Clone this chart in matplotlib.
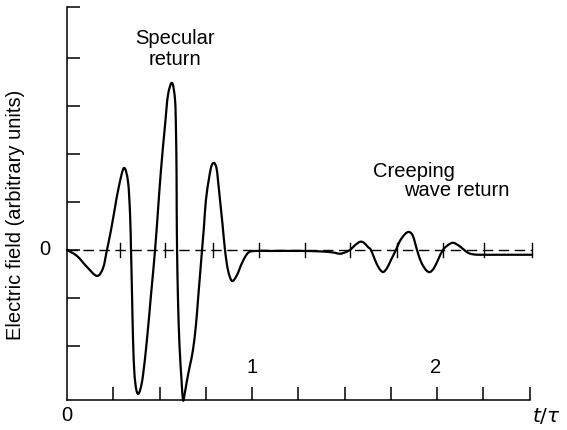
import matplotlib
matplotlib.use("Agg")
import matplotlib.pyplot as plt
import numpy as np
from matplotlib.path import Path
from matplotlib.patches import PathPatch

plt.rcParams["font.family"] = ["Liberation Sans", "DejaVu Sans"]

# Scattered field trace: t/tau versus electric field (arbitrary units)
t_trace = [
    0.000, 0.054, 0.108, 0.162, 0.195, 0.216, 0.238, 0.259, 0.281, 0.308,
    0.330, 0.341, 0.346, 0.351, 0.357, 0.364, 0.373, 0.384, 0.397, 0.411,
    0.432, 0.454, 0.476, 0.492, 0.508, 0.530, 0.546, 0.568, 0.584, 0.589,
    0.592, 0.593, 0.595, 0.600, 0.608, 0.619, 0.627, 0.635, 0.649, 0.665,
    0.681, 0.697, 0.708, 0.719, 0.730, 0.741, 0.751, 0.768, 0.781, 0.795,
    0.808, 0.816, 0.827, 0.841, 0.854, 0.870, 0.892, 0.919, 0.946, 0.978,
    1.016, 1.097, 1.259, 1.368, 1.422, 1.449, 1.476, 1.503, 1.530, 1.557,
    1.584, 1.605, 1.627, 1.643, 1.665, 1.686, 1.708, 1.730, 1.751, 1.778,
    1.800, 1.827, 1.849, 1.870, 1.892, 1.914, 1.941, 1.962, 1.984, 2.005,
    2.032, 2.059, 2.086, 2.114, 2.141, 2.168, 2.195, 2.232, 2.341, 2.514,
]
field_trace = [
    0.000, -0.125, -0.354, -0.542, -0.375, 0.000, 0.417, 0.875, 1.333, 1.708,
    1.417, 0.729, 0.000, -0.833, -1.875, -2.542, -2.875, -3.000, -2.896, -2.604,
    -1.875, -0.938, 0.000, 0.833, 1.667, 2.604, 3.229, 3.479, 3.125, 2.500,
    1.667, 0.833, 0.000, -1.042, -1.979, -2.708, -3.125, -3.021, -2.708, -2.396,
    -2.083, -1.563, -1.042, -0.521, 0.000, 0.521, 1.042, 1.500, 1.750, 1.813,
    1.708, 1.458, 1.042, 0.521, 0.000, -0.417, -0.646, -0.521, -0.271, -0.063,
    -0.021, -0.021, -0.020, -0.030, -0.045, -0.060, -0.080, -0.050, 0.000, 0.100,
    0.170, 0.150, 0.060, 0.000, -0.210, -0.375, -0.460, -0.375, -0.210, 0.000,
    0.190, 0.330, 0.375, 0.290, 0.000, -0.250, -0.420, -0.460, -0.375, -0.210,
    0.000, 0.100, 0.150, 0.100, 0.020, -0.060, -0.090, -0.100, -0.100, -0.100,
]

# Axis ticks
x_ticks = [0.25, 0.50, 0.75, 1.00, 1.25, 1.50, 1.75, 2.00, 2.25, 2.50]
midline_ticks = [0.286, 0.530, 0.789, 1.038, 1.286, 1.530, 1.784, 2.030, 2.254, 2.514]
y_ticks = [-2, -1, 0, 1, 2, 3, 4, 5.06]
x_max = 2.5
y_min, y_max = -3.125, 5.06


def smooth_path(xs, ys):
    """Cubic Bezier path passing through every (x, y) point."""
    pts = np.column_stack([xs, ys]).astype(float)
    n = len(pts)
    verts = [pts[0]]
    codes = [Path.MOVETO]
    for i in range(n - 1):
        p0 = pts[max(i - 1, 0)]
        p1 = pts[i]
        p2 = pts[i + 1]
        p3 = pts[min(i + 2, n - 1)]
        verts += [p1 + (p2 - p0) / 6.0, p2 - (p3 - p1) / 6.0, p2]
        codes += [Path.CURVE4] * 3
    return Path(verts, codes)


fig = plt.figure(figsize=(5.67, 4.30), dpi=100)
ax = fig.add_axes([67 / 567, 30 / 430, 462.5 / 567, 393 / 430])
ax.set_xlim(0, x_max)
ax.set_ylim(y_min, y_max)

for side in ("top", "right"):
    ax.spines[side].set_visible(False)
for side in ("left", "bottom"):
    ax.spines[side].set_linewidth(1.1)
    ax.spines[side].set_color("black")

ax.set_xticks(x_ticks)
ax.set_xticklabels([])
ax.set_yticks(y_ticks)
ax.set_yticklabels([""] * len(y_ticks))
ax.tick_params(axis="both", direction="in", length=9.5, width=1.1, color="black")

# Zero reference line with its own short crossing ticks
ax.plot([0, midline_ticks[-1]], [0, 0], color="black", lw=1.0,
        dashes=(7.5, 4.0), clip_on=False)
tick_half = 7 / 48
for xt in midline_ticks:
    ax.plot([xt, xt], [-tick_half, tick_half], color="black", lw=1.0, clip_on=False)

# Field trace
ax.add_patch(PathPatch(smooth_path(t_trace, field_trace), fill=False,
                       edgecolor="black", lw=1.6, clip_on=False,
                       joinstyle="round", capstyle="round"))

fs = 14.5
ax.text(-0.12, 0, "0", ha="center", va="center", fontsize=fs)
ax.text(0, -3.45, "0", ha="center", va="center", fontsize=fs, clip_on=False)
ax.text(1.0, -2.45, "1", ha="center", va="center", fontsize=fs)
ax.text(1.99, -2.45, "2", ha="center", va="center", fontsize=fs)
ax.text(2.59, -3.45, r"$\it{t}/\tau$", ha="center", va="center", fontsize=fs,
        clip_on=False)

ax.text(0.585, 4.28, "Specular", ha="center", va="baseline", fontsize=fs)
ax.text(0.585, 3.86, "return", ha="center", va="baseline", fontsize=fs)
ax.text(1.653, 1.52, "Creeping", ha="left", va="baseline", fontsize=fs)
ax.text(1.822, 1.12, "wave return", ha="left", va="baseline", fontsize=fs)

fig.text(16 / 567, 1 - 215 / 430, "Electric field (arbitrary units)",
         rotation=90, ha="center", va="center", fontsize=fs)

fig.savefig("out.png", dpi=100)
